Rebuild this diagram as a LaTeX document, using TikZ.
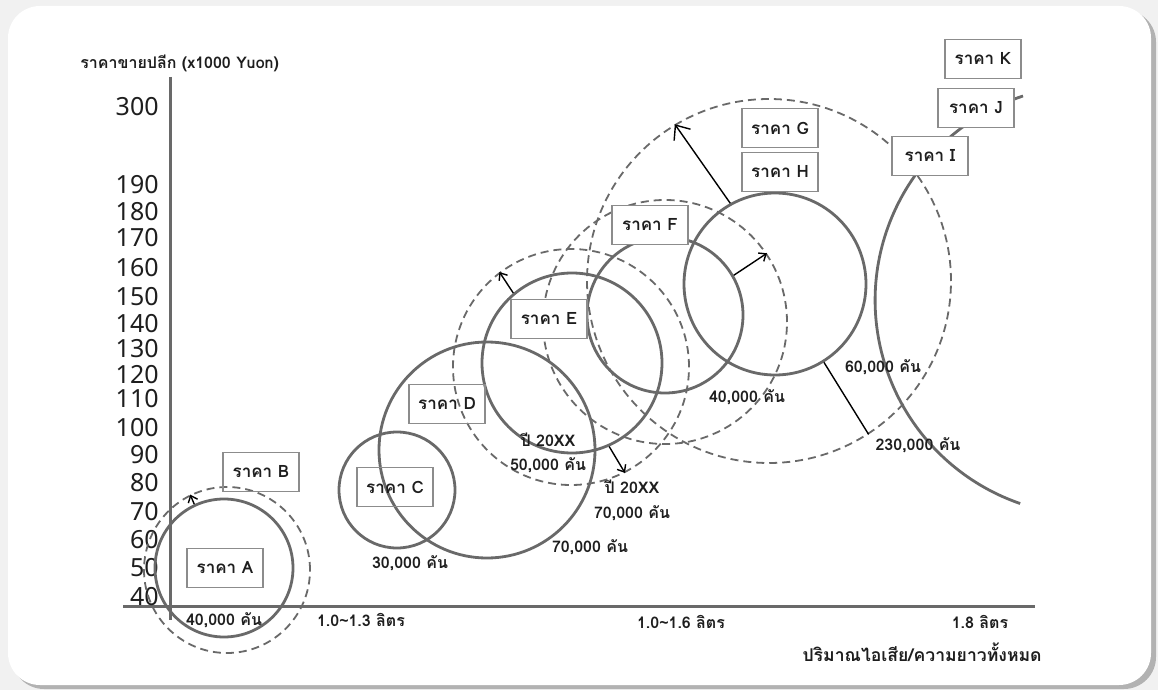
\documentclass[tikz,border=0pt]{standalone}
\usepackage{fontspec}
\newfontfamily\thaifont[Script=Thai]{Loma}
\newfontfamily\tickfont{Noto Sans}
\usepackage{xcolor}
\definecolor{ringgray}{RGB}{105,105,105}
\definecolor{boxgray}{RGB}{140,140,140}
\definecolor{inkdark}{RGB}{30,30,30}
\definecolor{pagebg}{RGB}{241,241,241}
\definecolor{shadowgray}{RGB}{178,178,178}
\usepackage{tikz}
\usetikzlibrary{arrows.meta}
\tikzset{
  solidring/.style={
    circle, draw=ringgray, line width=1.4pt, inner sep=0pt, minimum size=#1
  },
  dashring/.style={
    circle, draw=ringgray, line width=0.9pt, dash pattern=on 4pt off 2.5pt,
    inner sep=0pt, minimum size=#1
  },
  pricebox/.style={
    rectangle, draw=boxgray, line width=0.8pt, inner sep=0pt,
    minimum width=38pt, minimum height=19.5pt, text=inkdark,
    font=\thaifont\bfseries\fontsize{8.5}{10}\selectfont
  },
  coverbox/.style={pricebox, fill=white},
  countlabel/.style={
    inner sep=0pt, text=inkdark, font=\thaifont\bfseries\fontsize{8}{9.5}\selectfont
  },
  ticklabel/.style={
    inner sep=0pt, anchor=east, text=inkdark, font=\tickfont\fontsize{12.5}{13}\selectfont
  },
  growth/.style={-{Straight Barb[length=3pt,width=5pt]}, line width=0.7pt, draw=black},
  axisline/.style={draw=ringgray, line width=1.5pt},
}

\begin{document}
\begin{tikzpicture}[x=0.5pt, y=-0.5pt]

  % page and card
  \fill[pagebg] (0,0) rectangle (1158,690);
  \fill[shadowgray, rounded corners=16pt] (12,10) rectangle (1156,689);
  \fill[white, rounded corners=16pt] (8,6) rectangle (1151,685);
  \useasboundingbox (0,0) rectangle (1158,690);

  % axes
  \draw[axisline] (170,77) -- (170,620);
  \draw[axisline] (123,606) -- (1035,606);
  \foreach \val/\ypos in {300/107,190/185,180/212,170/238,160/268,150/297,
      140/324,130/349,120/375,110/399,100/428,90/455,80/483,70/512,60/540,50/568,40/597}
    \node[ticklabel] (tick\val) at (159,\ypos) {\val};
  \node[countlabel, anchor=west] (ytitle) at (80,63) {ราคาขายปลีก (x1000 Yuon)};

  % price circles
  \node[solidring=69pt] (ringA) at (224,568) {};
  \node[dashring=83pt] (ringB) at (227,570) {};
  \node[solidring=58pt] (ringC) at (397,490) {};
  \node[solidring=108pt] (ringD) at (487,450) {};
  \node[solidring=90pt] (ringE) at (572,363) {};
  \node[dashring=118pt] (ringEx) at (571,367) {};
  \node[solidring=78pt] (ringF) at (665,315) {};
  \node[dashring=122pt] (ringFx) at (665,322) {};
  \node[solidring=91pt] (ringH) at (775,284) {};
  \node[dashring=182pt] (ringG) at (769,281) {};
  \draw[draw=ringgray, line width=1.4pt] (1023,96) arc[start angle=251.8, end angle=109, radius=215];

  % price boxes
  \node[pricebox] (priceA) at (225,568) {ราคา A};
  \node[pricebox] (priceB) at (261,472) {ราคา B};
  \node[pricebox] (priceC) at (395,487) {ราคา C};
  \node[pricebox] (priceD) at (447,404) {ราคา D};
  \node[coverbox] (priceE) at (549,319) {ราคา E};
  \node[coverbox] (priceF) at (650,225) {ราคา F};
  \node[coverbox] (priceG) at (780,128) {ราคา G};
  \node[coverbox] (priceH) at (780,172) {ราคา H};
  \node[coverbox] (priceI) at (930,156) {ราคา I};
  \node[coverbox] (priceJ) at (976,108) {ราคา J};
  \node[coverbox] (priceK) at (983,59) {ราคา K};

  % growth arrows
  \draw[growth] (ringA.115) -- (ringB.116);
  \draw[growth] (ringE.130) -- (ringEx.127);
  \draw[growth] (ringE.-66) -- (ringEx.-63);
  \draw[growth] (ringF.30) -- (ringFx.34);
  \draw[growth, -{Straight Barb[length=6pt,width=10pt]}] (ringH.119) -- (ringG.121);
  \draw[line width=0.7pt] (ringH.-58) -- (ringG.-57);

  % volumes
  \node[countlabel] (volA) at (224,620) {40,000 คัน};
  \node[countlabel] (volC) at (410,563) {30,000 คัน};
  \node[countlabel] (volD) at (590,547) {70,000 คัน};
  \node[countlabel] (yearE) at (548,440) {ปี 20XX};
  \node[countlabel] (volE) at (548,465) {50,000 คัน};
  \node[countlabel] (yearEx) at (632,487) {ปี 20XX};
  \node[countlabel] (volEx) at (632,513) {70,000 คัน};
  \node[countlabel] (volF) at (747,397) {40,000 คัน};
  \node[countlabel] (volH) at (883,367) {60,000 คัน};
  \node[countlabel] (volG) at (918,445) {230,000 คัน};

  % x axis
  \node[countlabel] (size1) at (361,620) {1.0\textasciitilde1.3 ลิตร};
  \node[countlabel] (size2) at (681,622) {1.0\textasciitilde1.6 ลิตร};
  \node[countlabel] (size3) at (980,622) {1.8 ลิตร};
  \node[countlabel, anchor=east, font=\thaifont\bfseries\fontsize{8.8}{10}\selectfont] (xtitle) at (1042,652) {ปริมาณไอเสีย/ความยาวทั้งหมด};

\end{tikzpicture}
\end{document}
